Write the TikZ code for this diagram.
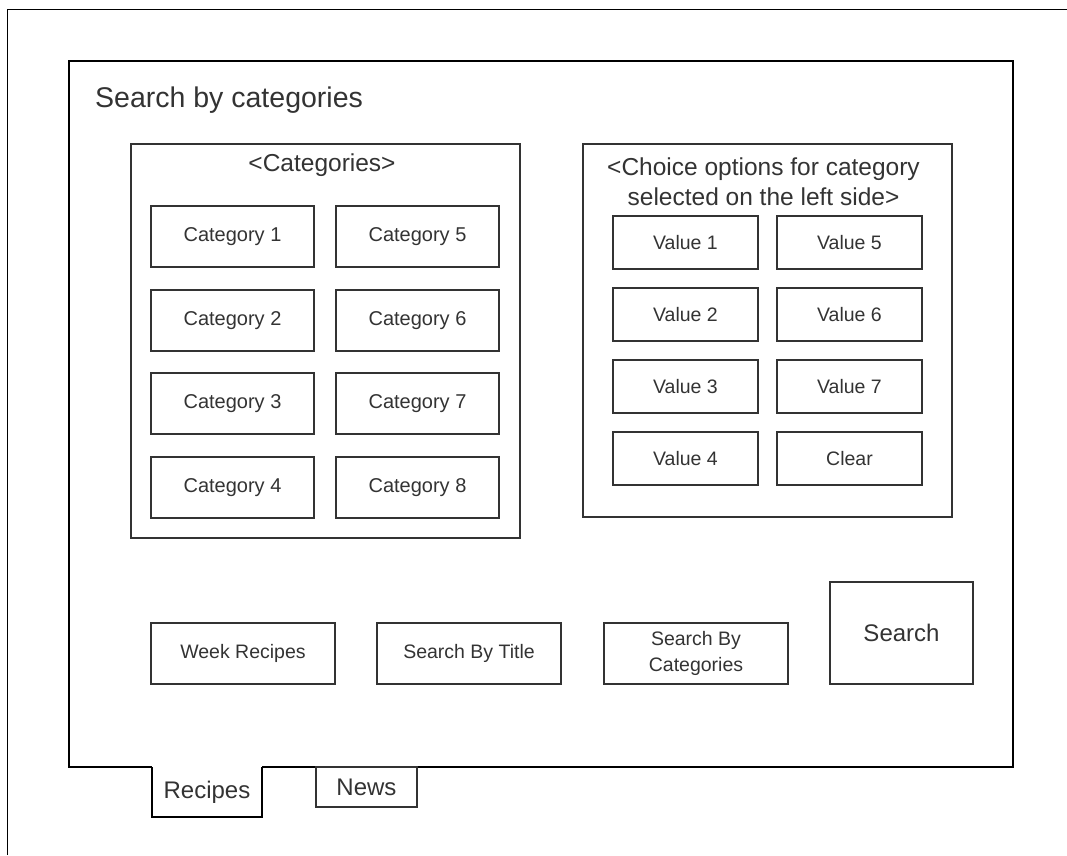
\documentclass[tikz,border=0pt]{standalone}
\usepackage{fontspec}
\setmainfont{Liberation Sans}
\definecolor{ink}{HTML}{333333}
\begin{document}
\begin{tikzpicture}[x=1pt,y=-1pt,
  frame/.style={draw=black, line width=1.5pt},
  panel/.style={draw=ink, line width=1.4pt, inner sep=0pt},
  btn/.style={draw=ink, line width=1.3pt, inner sep=0pt, align=center, text=ink},
  catbox/.style={btn, minimum width=163pt, minimum height=61pt, font=\fontsize{20}{24}\selectfont},
  valbox/.style={btn, minimum width=145pt, minimum height=53pt, font=\fontsize{19.5}{23}\selectfont},
  navbox/.style={btn, minimum width=184pt, minimum height=61pt, font=\fontsize{19.5}{26}\selectfont},
  label/.style={inner sep=0pt, text=ink, align=center}
]
\useasboundingbox (0,0) rectangle (1067,855);
% outer border (top and left)
\draw[black, line width=1pt] (7,855) -- (7,9) -- (1067,9);
% main frame, open where the Recipes tab joins it
\coordinate (tabL) at (152,767);
\coordinate (tabR) at (262,767);
\draw[frame] (tabL) -- (69,767) -- (69,61) -- (1013,61) -- (1013,767) -- (tabR);
\node[label, anchor=west, font=\fontsize{28.5}{32}\selectfont] (title) at (95,100) {Search by categories};

% categories panel
\node[panel, minimum width=389pt, minimum height=394pt] (catpanel) at (325.5,341) {};
\node[label, font=\fontsize{24.5}{28}\selectfont] (cathead) at (322,165) {<Categories>};
\node[catbox] (c1) at (232.5,236.5) {Category 1};
\node[catbox] (c2) at (232.5,320.5) {Category 2};
\node[catbox] (c3) at (232.5,403.5) {Category 3};
\node[catbox] (c4) at (232.5,487.5) {Category 4};
\node[catbox] (c5) at (417.5,236.5) {Category 5};
\node[catbox] (c6) at (417.5,320.5) {Category 6};
\node[catbox] (c7) at (417.5,403.5) {Category 7};
\node[catbox] (c8) at (417.5,487.5) {Category 8};

% choice panel
\node[panel, minimum width=369pt, minimum height=373pt] (valpanel) at (767.5,330.5) {};
\node[label, font=\fontsize{24.5}{30}\selectfont] (valhead) at (763.5,182) {<Choice options for category\\selected on the left side>};
\node[valbox] (v1) at (685.5,242.5) {Value 1};
\node[valbox] (v2) at (685.5,314.5) {Value 2};
\node[valbox] (v3) at (685.5,386.5) {Value 3};
\node[valbox] (v4) at (685.5,458.5) {Value 4};
\node[valbox] (v5) at (849.5,242.5) {Value 5};
\node[valbox] (v6) at (849.5,314.5) {Value 6};
\node[valbox] (v7) at (849.5,386.5) {Value 7};
\node[valbox] (vclear) at (849.5,458.5) {Clear};

% bottom buttons
\node[navbox] (week) at (243,653.5) {Week Recipes};
\node[navbox] (bytitle) at (469,653.5) {Search By Title};
\node[navbox] (bycat) at (696,653.5) {Search By\\Categories};
\node[btn, minimum width=143pt, minimum height=102pt, font=\fontsize{24}{28}\selectfont] (search) at (901.5,633) {Search};

% tabs
\draw[frame, line width=1.4pt] (tabL) -- (152,817) -- (262,817) -- (tabR);
\node[label, font=\fontsize{24}{28}\selectfont] (recipes) at (207,792) {Recipes};
\node[btn, minimum width=101pt, minimum height=40pt, font=\fontsize{24}{28}\selectfont] (news) at (366.5,787) {News};
\end{tikzpicture}
\end{document}
